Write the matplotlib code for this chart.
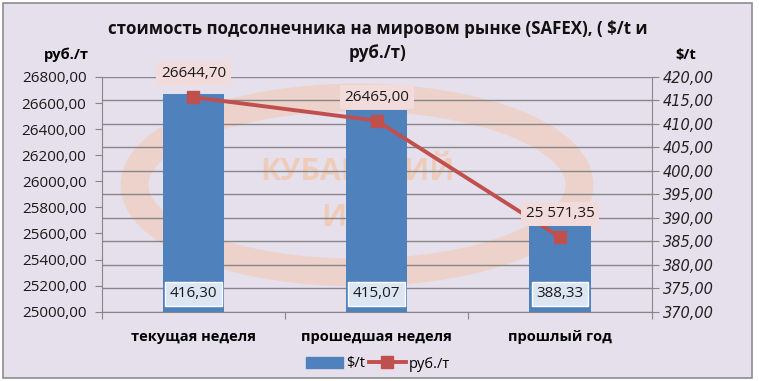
import matplotlib
matplotlib.use("Agg")
import matplotlib.pyplot as plt
from matplotlib.patches import Rectangle, Ellipse
from matplotlib.ticker import FixedLocator, FuncFormatter

categories = ["текущая неделя", "прошедшая неделя", "прошлый год"]
usd_values = [416.30, 413.00, 388.33]          # bar heights ($/t)
usd_labels = ["416,30", "415,07", "388,33"]
rub_values = [26644.70, 26465.00, 25571.35]    # руб./т
rub_labels = ["26644,70", "26465,00", "25 571,35"]
left_ticks = [25000, 25200, 25400, 25600, 25800, 26000, 26200, 26400, 26600, 26800]
right_ticks = [370, 375, 380, 385, 390, 395, 400, 405, 410, 415, 420]

FONT = ["Open Sans", "DejaVu Sans"]
plt.rcParams["font.family"] = FONT

def fmt(v):
    return f"{v:.2f}".replace(".", ",")

W, H = 759, 381
fig = plt.figure(figsize=(W / 100, H / 100), dpi=100)
fig.patch.set_facecolor("white")
bg = "#E6E0EC"
fig.patches.append(Rectangle((3 / W, 1 - 378 / H), 749 / W, 375 / H, transform=fig.transFigure,
                             facecolor=bg, edgecolor="#8C8C8C", lw=1.2, zorder=-5))

ax = fig.add_axes([101.7 / W, 1 - 311.7 / H, 550 / W, 234.7 / H])
ax.set_facecolor("none")
ax2 = ax.twinx()
ax2.set_facecolor("none")

# watermark
wm = "#F2C8AE"
ax.add_patch(Ellipse((357 / W, 1 - 185 / H), 445 / W, 175 / H, transform=fig.transFigure,
                     fill=False, edgecolor=wm, lw=20, alpha=0.55, zorder=0.2, clip_on=False))
ax.text(357 / W, 1 - 172 / H, "КУБАНСКИЙ", ha="center", va="center", fontsize=22,
        fontweight="bold", color=wm, alpha=0.8, zorder=0.3, transform=fig.transFigure)
ax.text(357 / W, 1 - 218 / H, "ИНЦ", ha="center", va="center", fontsize=22,
        fontweight="bold", color=wm, alpha=0.8, zorder=0.3, transform=fig.transFigure)

x = list(range(len(categories)))
ax.bar(x, usd_values, width=0.335, color="#4F81BD", zorder=2)
ax.set_ylim(370, 420)
ax.set_xlim(-0.5, len(categories) - 0.5)
ax.yaxis.tick_right()
ax.set_yticks(right_ticks, labels=[fmt(v) for v in right_ticks],
              fontstyle="italic", family=["DejaVu Sans"], fontsize=10.5, color="#222222")
ax.set_axisbelow(True)
ax.yaxis.grid(True, color="#868686", lw=1)
ax.tick_params(axis="y", length=5, color="#868686", pad=3)

ax.set_xticks([-0.5, 0.5, 1.5, 2.5])
ax.set_xticklabels([])
ax.set_xticks(x, minor=True)
ax.set_xticklabels(categories, minor=True, fontweight="bold", fontsize=10.5)
ax.tick_params(axis="x", which="minor", length=0, pad=13)
ax.tick_params(axis="x", which="major", length=5, color="#868686", direction="out")

for sp in ["top", "left"]:
    ax.spines[sp].set_visible(False)
for sp in ["right", "bottom"]:
    ax.spines[sp].set_color("#868686")

ax2.plot(x, rub_values, color="#C0504D", lw=2.8, marker="s", markersize=8, zorder=3)
ax2.set_ylim(25000, 26800)
ax2.yaxis.set_major_locator(FixedLocator(left_ticks))
ax2.yaxis.set_major_formatter(FuncFormatter(lambda v, p: fmt(v)))
ax2.yaxis.tick_left()
ax2.tick_params(axis="y", length=5, color="#868686", labelsize=11, pad=6, labelcolor="#1a1a1a")
for sp in ["top", "right", "bottom"]:
    ax2.spines[sp].set_visible(False)
ax2.spines["left"].set_color("#868686")

for i, (v, t) in enumerate(zip(usd_values, usd_labels)):
    ax.annotate(t, xy=(i, 370), xytext=(0, 13), textcoords="offset points",
                ha="center", va="center", fontsize=11, color="#1a1a1a", zorder=4,
                bbox=dict(boxstyle="square,pad=0.3", facecolor="#DCE6F2", edgecolor="white", lw=1))
for i, (v, t) in enumerate(zip(rub_values, rub_labels)):
    ax2.annotate(t, xy=(i, v), xytext=(0, 17), textcoords="offset points",
                 ha="center", va="center", fontsize=11, color="#1a1a1a", zorder=4,
                 bbox=dict(boxstyle="square,pad=0.3", facecolor="#F2DCDB", edgecolor="none"))

fig.text(378 / W, 1 - 29 / H, "стоимость подсолнечника на мировом рынке (SAFEX), ( $/t и",
         ha="center", va="center", fontsize=12.2, fontweight="bold", color="#111111")
fig.text(378 / W, 1 - 53 / H, "руб./т)", ha="center", va="center", fontsize=12.2,
         fontweight="bold", color="#111111")
fig.text(66 / W, 1 - 55 / H, "руб./т", ha="center", va="center", fontsize=10.5, fontweight="bold")
fig.text(686 / W, 1 - 55 / H, "$/t", ha="center", va="center", fontsize=10.5, fontweight="bold")

h1 = plt.Rectangle((0, 0), 1, 1, color="#4F81BD")
h2 = plt.Line2D([], [], color="#C0504D", lw=2.8, marker="s", markersize=8)
fig.legend([h1, h2], ["$/t", "руб./т"], loc="center", bbox_to_anchor=(378 / W, 1 - 364 / H),
           ncol=2, frameon=False, fontsize=10.5, handlelength=2.5, handletextpad=0.2,
           columnspacing=0.3, handleheight=0.8)

fig.savefig("out.png", dpi=100, facecolor=fig.get_facecolor())
